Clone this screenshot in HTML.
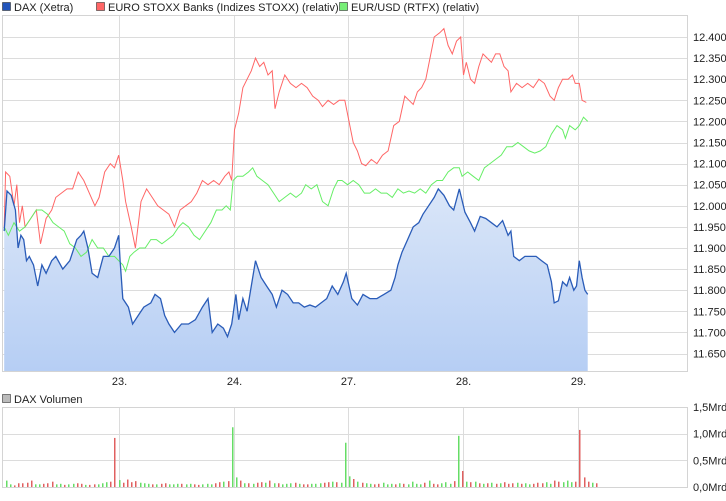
<!DOCTYPE html>
<html><head><meta charset="utf-8"><style>
body{margin:0;background:#fff;font-family:"Liberation Sans",sans-serif;}
svg text{font-family:"Liberation Sans",sans-serif;font-size:11px;fill:#222;}
</style></head><body>
<svg id="c" width="726" height="496" xmlns="http://www.w3.org/2000/svg">
<defs><linearGradient id="g" x1="0" y1="0" x2="0" y2="1"><stop offset="0" stop-color="#dae6f8"/><stop offset="1" stop-color="#b6cef4"/></linearGradient></defs>
<g>
<rect x="2.5" y="2.5" width="8" height="8" fill="#2255bb" stroke="#333" stroke-width="0.6"/>
<text x="14" y="11">DAX (Xetra)</text>
<rect x="96.5" y="2.5" width="8" height="8" fill="#ff6666" stroke="#333" stroke-width="0.6"/>
<text x="108" y="11">EURO STOXX Banks (Indizes STOXX) (relativ)</text>
<rect x="339.5" y="2.5" width="8" height="8" fill="#77ee77" stroke="#333" stroke-width="0.6"/>
<text x="351" y="11">EUR/USD (RTFX) (relativ)</text>
<rect x="2.5" y="394.5" width="8" height="8" fill="#bbb" stroke="#333" stroke-width="0.6"/>
<text x="14" y="403">DAX Volumen</text>
</g>
<g id="grid"></g>
<g id="series"></g>
<g id="vol"></g>
<rect x="2.5" y="15.5" width="685" height="356" fill="none" stroke="#d4d4d4"/>
<rect x="2.5" y="407.5" width="685" height="80" fill="none" stroke="#d4d4d4"/>
</svg>
<script>
const yTicks=[12400,12350,12300,12250,12200,12150,12100,12050,12000,11950,11900,11850,11800,11750,11700,11650];
const yTickLabels=["12.400","12.350","12.300","12.250","12.200","12.150","12.100","12.050","12.000","11.950","11.900","11.850","11.800","11.750","11.700","11.650"];
const dayPos=[1,2,3,4,5];
const dayLabels=["23.","24.","27.","28.","29."];
const volTicks=[1.5,1.0,0.5,0];
const volTickLabels=["1,5Mrd","1,0Mrd","0,5Mrd","0,0Mrd"];
const daxT=[3,5,8,11,13,15,17,19,21,24,27,30,33,37,40,45,50,55,58,60,63,66,70,74,78,82,85,86,88,92,95,99,103,108,111,115,118,121,125,130,135,140,145,149,152,156,160,163,166,169,171,174,177,180,183,187,191,195,198,202,206,210,214,218,222,226,230,234,238,242,246,248,252,256,260,265,270,275,280,283,285,288,292,296,300,303,307,311,314,318,322,325,329,333,337,340,344,348,352,356,360,364,366,368,372,376,380,384,388,392,395,397,400,403,406,408,411,413,415,417,419,421];
const daxV=[11940,12035,12025,11990,11900,11930,11920,11870,11880,11860,11810,11860,11840,11870,11880,11850,11870,11920,11930,11940,11900,11840,11830,11880,11880,11900,11930,11870,11780,11760,11720,11740,11760,11770,11790,11780,11740,11720,11700,11720,11720,11730,11760,11780,11700,11720,11710,11690,11720,11790,11730,11780,11750,11810,11870,11830,11810,11790,11760,11800,11790,11770,11770,11760,11765,11760,11770,11780,11810,11790,11820,11840,11780,11765,11790,11780,11780,11790,11800,11830,11860,11890,11920,11950,11960,11980,12000,12020,12040,12025,12000,11990,12040,11985,11960,11940,11975,11970,11960,11950,11965,11930,11940,11880,11870,11880,11880,11880,11870,11860,11820,11770,11775,11820,11810,11830,11800,11810,11870,11830,11800,11790];
const bankT=[3,4,7,10,12,14,16,18,22,26,29,33,37,40,44,48,52,56,60,64,68,71,75,79,82,85,88,90,94,97,101,105,109,113,117,121,125,129,133,137,141,145,149,153,157,161,164,166,168,171,174,177,180,183,186,189,192,195,197,200,204,208,212,216,220,224,228,231,235,239,243,247,250,253,256,259,262,266,270,274,278,282,286,290,293,296,299,302,305,308,311,315,318,321,324,327,330,332,334,337,340,343,346,349,352,355,358,361,364,366,370,374,378,382,386,390,394,397,400,403,407,410,412,415,417,420];
const bankV=[11950,12080,12070,12000,12050,11960,12000,11950,11970,11990,11910,11970,11990,12020,12030,12040,12040,12080,12060,12030,12000,12020,12080,12100,12090,12120,12060,12010,11950,11900,12010,12040,12020,12000,11990,11980,11950,11990,12000,12010,12030,12060,12050,12060,12050,12070,12080,12060,12180,12220,12280,12300,12320,12350,12330,12340,12310,12320,12230,12270,12310,12290,12280,12290,12280,12260,12250,12235,12250,12240,12250,12250,12200,12150,12130,12100,12095,12110,12100,12120,12130,12190,12200,12260,12250,12240,12270,12280,12300,12350,12400,12410,12420,12380,12360,12390,12400,12310,12340,12300,12290,12330,12360,12350,12340,12360,12360,12330,12320,12270,12290,12280,12290,12280,12300,12290,12260,12250,12280,12300,12300,12310,12290,12290,12250,12245];
const fxT=[3,6,10,14,18,22,26,30,34,38,42,46,50,54,58,62,66,70,74,78,82,85,88,90,93,96,100,104,108,112,116,120,124,128,131,135,139,143,147,151,155,159,162,165,167,170,174,178,181,184,188,192,196,200,204,208,212,216,219,223,227,231,235,239,242,245,249,253,257,261,265,269,273,277,281,285,289,293,297,301,305,309,313,317,321,325,329,331,335,339,343,347,351,355,359,363,367,371,375,379,383,387,391,395,399,403,405,408,412,415,418,421];
const fxV=[11950,11930,11960,11940,11950,11970,11990,11990,11980,11960,11950,11940,11910,11900,11880,11890,11920,11900,11900,11880,11880,11870,11860,11845,11880,11890,11900,11900,11920,11920,11910,11920,11930,11950,11960,11950,11930,11920,11940,11960,11990,11990,12000,11990,12060,12070,12070,12080,12090,12070,12060,12050,12030,12010,12020,12030,12020,12030,12050,12040,12050,12010,12000,12040,12060,12060,12050,12060,12050,12030,12030,12040,12030,12030,12020,12040,12030,12035,12030,12040,12030,12050,12060,12060,12080,12090,12090,12070,12080,12070,12060,12090,12100,12110,12120,12140,12140,12150,12140,12130,12125,12130,12140,12170,12190,12180,12160,12190,12180,12190,12210,12200];
const volV=[0.12,0.05,0.03,0.07,0.07,0.08,0.12,0.05,0.05,0.06,0.07,0.10,0.05,0.06,0.04,0.05,0.06,0.07,0.06,0.04,0.04,0.05,0.05,0.07,0.09,0.10,0.92,0.13,0.08,0.14,0.09,0.11,0.08,0.07,0.06,0.05,0.05,0.06,0.07,0.05,0.05,0.06,0.06,0.05,0.06,0.05,0.04,0.05,0.06,0.05,0.07,0.09,0.10,0.11,1.12,0.18,0.12,0.07,0.07,0.06,0.08,0.09,0.08,0.12,0.07,0.07,0.05,0.06,0.07,0.08,0.06,0.05,0.05,0.06,0.06,0.07,0.08,0.09,0.10,0.09,0.08,0.83,0.20,0.15,0.10,0.08,0.07,0.06,0.05,0.06,0.08,0.05,0.06,0.05,0.07,0.06,0.05,0.10,0.06,0.05,0.08,0.12,0.06,0.05,0.07,0.09,0.06,0.11,0.96,0.30,0.10,0.09,0.10,0.07,0.06,0.07,0.08,0.06,0.07,0.09,0.06,0.07,0.08,0.06,0.07,0.05,0.06,0.08,0.07,0.09,0.06,0.12,0.10,0.09,0.12,0.09,0.10,1.07,0.18,0.10,0.08,0.07];
const volUp=[1,1,0,0,0,0,0,1,1,0,0,0,1,1,0,1,1,0,0,1,0,0,1,1,1,0,0,1,0,0,0,0,1,1,1,0,1,0,0,1,1,1,0,1,1,0,0,1,1,1,0,0,1,0,1,1,0,1,0,1,0,0,1,0,1,0,1,1,1,0,1,0,0,1,1,1,0,0,1,0,1,1,1,0,1,0,1,1,0,0,1,1,1,0,1,0,1,1,1,1,0,1,0,0,1,1,1,0,1,0,1,0,1,0,1,0,1,0,1,0,0,0,1,0,1,1,0,0,0,1,1,0,0,1,1,1,0,0,0,0,1,0,0];
const NS="http://www.w3.org/2000/svg";
const XK=1.396;
const xS=t=>t*XK; const yS=v=>37+(12400-v)/50*21.1;
const dayX=d=>xS(3+d*82.2);
const vY=v=>487-v/1.5*80;
function mk(tag,attrs,parent){const e=document.createElementNS(NS,tag);for(const k in attrs)e.setAttribute(k,attrs[k]);parent.appendChild(e);return e;}
const grid=document.getElementById('grid'),ser=document.getElementById('series'),vol=document.getElementById('vol');
yTicks.forEach((v,i)=>{
 const l=mk('line',{x1:3,x2:687,y1:Math.round(yS(v))+0.5,y2:Math.round(yS(v))+0.5,stroke:'#dcdcdc'},grid);
 
 
 const t=mk('text',{x:693,y:yS(v)+4},grid);t.textContent=yTickLabels[i];
 
 
});
dayPos.forEach((d,i)=>{
 const x=Math.round(dayX(d))+0.5;
 const l=mk('line',{x1:x,x2:x,y1:16,y2:371,stroke:'#dcdcdc'},grid);
 
 
 const l2=mk('line',{x1:x,x2:x,y1:408,y2:487,stroke:'#dcdcdc'},grid);
 
 
 const t=mk('text',{x:x,y:385,'text-anchor':'middle'},grid);t.textContent=dayLabels[i];
 
 
});
volTicks.forEach((v,i)=>{
 const y=Math.round(vY(v))+0.5;
 if(v>0&&v<1.5){const l=mk('line',{x1:3,x2:687,y1:y,y2:y,stroke:'#dcdcdc'},grid);
 
 }
 const t=mk('text',{x:693,y:vY(v)+4},grid);t.textContent=volTickLabels[i];
 
 
});
function pts(T,V){return T.map((t,i)=>xS(t).toFixed(1)+','+yS(V[i]).toFixed(1)).join(' ');}
const area=mk('polygon',{points:xS(daxT[0])+',371 '+pts(daxT,daxV)+' '+xS(daxT[daxT.length-1])+',371',fill:'url(#g)'},ser);


const bl=mk('polyline',{points:pts(bankT,bankV),fill:'none',stroke:'#ff6666','stroke-width':1},ser);


const fl=mk('polyline',{points:pts(fxT,fxV),fill:'none',stroke:'#66ee66','stroke-width':1},ser);


const dl=mk('polyline',{points:pts(daxT,daxV),fill:'none',stroke:'#2a5cb8','stroke-width':1.3},ser);


volV.forEach((v,i)=>{
 const x=Math.round(xS(4+i*3));
 const r=mk('rect',{x:x,y:vY(v),width:1.5,height:487-vY(v),fill:volUp[i]?'#66dd66':'#e06060'},vol);
 
 
});
</script>
</body></html>
